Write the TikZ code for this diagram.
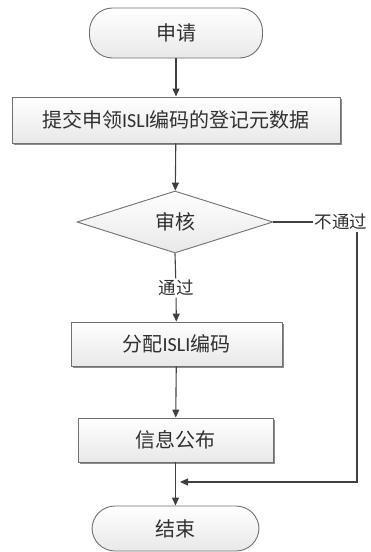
\documentclass[tikz,border=0pt]{standalone}
\usepackage{fontspec}
\setmainfont{Noto Sans CJK SC}
\newfontfamily\lat{Carlito}
\usetikzlibrary{shapes.geometric,shadows,arrows.meta}
\definecolor{linec}{HTML}{404040}
\definecolor{borderc}{HTML}{707070}
\definecolor{txtc}{HTML}{303030}
\tikzset{
  base/.style={draw=borderc, line width=0.9pt, text=txtc, font=\fontsize{20}{24}\selectfont, inner sep=0pt, top color=white, bottom color=black!9},
  termbox/.style={base, rectangle, rounded corners=23pt},
  procbox/.style={base, rectangle, drop shadow={shadow xshift=2pt, shadow yshift=-2pt, fill=black!45, opacity=1}},
  decbox/.style={base, diamond, aspect=3.1},
  lbl/.style={text=txtc, font=\fontsize{17.5}{20}\selectfont, inner sep=1.5pt},
  conn/.style={draw=linec, line width=1.1pt},
  arr/.style={conn, -{Triangle[length=8pt,width=7pt]}}
}
\begin{document}
\begin{tikzpicture}[x=1pt,y=-1pt]
\useasboundingbox (0,0) rectangle (371,552);
\node[termbox, minimum width=173pt, minimum height=50pt] (start) at (176,33) {申请};
\node[procbox, minimum width=328pt, minimum height=46pt] (b1) at (176,120) {提交申领{\lat ISLI}编码的登记元数据};
\node[decbox, minimum width=196pt, minimum height=62pt] (dia) at (175,222) {审核};
\node[lbl] (pass) at (176,288) {通过};
\node[procbox, minimum width=211pt, minimum height=44pt] (b2) at (176.5,344) {分配{\lat ISLI}编码};
\node[procbox, minimum width=195pt, minimum height=44pt] (b3) at (175.5,440) {信息公布};
\node[termbox, minimum width=167pt, minimum height=45pt] (end) at (175.5,528.5) {结束};
\node[lbl, anchor=west] (fail) at (313,222) {不通过};
\coordinate (corner) at (357,482);
\coordinate (join) at (180,482);
\draw[arr] (start) -- (b1);
\draw[arr] (b1) -- (dia);
\draw[conn] (dia.south) -- (pass);
\draw[arr] (pass) -- (b2);
\draw[arr] (b2) -- (b3);
\draw[arr] (b3) -- (end);
\draw[conn] (dia.east) -- (fail.west);
\draw[arr] (fail.south -| corner) -- (corner) -- (join);
\end{tikzpicture}
\end{document}
